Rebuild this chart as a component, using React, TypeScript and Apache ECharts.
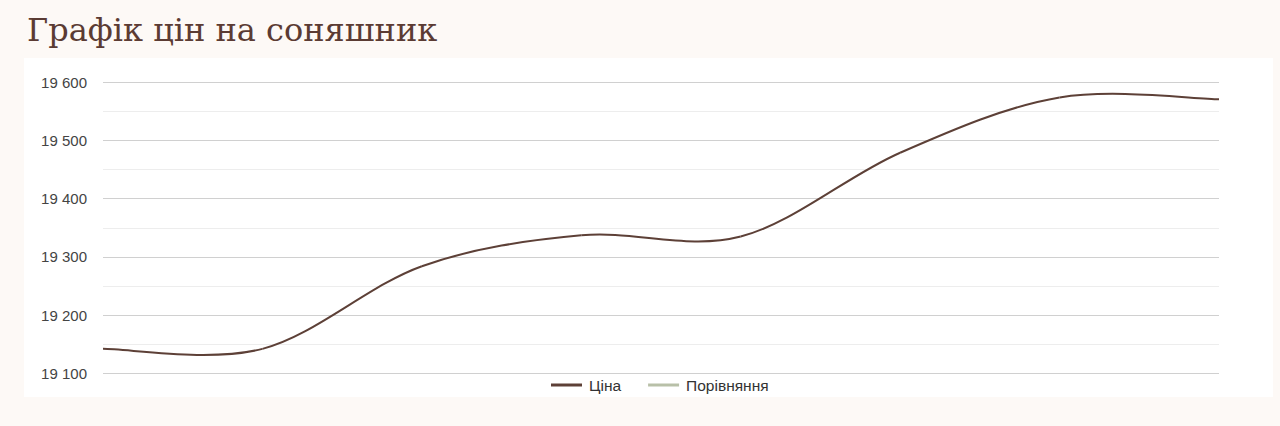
import React, { useEffect, useRef } from "react";
import * as echarts from "echarts";

const categories = ["1", "2", "3", "4", "5", "6", "7", "8"];
const priceValues = [19142, 19142, 19284, 19337, 19335, 19479, 19574, 19571];
const compareValues: number[] = [];
const seriesNames = ["Ціна", "Порівняння"];
const yTicks = [19100, 19200, 19300, 19400, 19500, 19600];

const PRICE_COLOR = "#5d4037";
const COMPARE_COLOR = "#b8c0a8";
const TENSION = 1 / 6;

const fmt = (v: number) => String(v).replace(/\B(?=(\d{3})+(?!\d))/g, " ");

export default function App() {
  const ref = useRef<HTMLDivElement>(null);
  useEffect(() => {
    document.body.style.margin = "0";
    const chart = echarts.init(ref.current!, undefined, { renderer: "svg" });
    const n = priceValues.length;
    chart.setOption({
      animation: false,
      backgroundColor: "#fdf9f6",
      title: {
        text: "Графік цін на соняшник",
        left: 22,
        top: 9,
        textStyle: {
          fontFamily: "'DejaVu Serif', serif",
          fontSize: 32,
          fontWeight: "normal",
          color: "#5b3b33",
        },
      },
      graphic: [
        {
          type: "rect",
          z: -10,
          shape: { x: 24, y: 58, width: 1249, height: 339 },
          style: { fill: "#ffffff" },
          silent: true,
        },
      ],
      legend: {
        data: seriesNames,
        top: 372,
        left: 546,
        icon: "rect",
        itemWidth: 31,
        itemHeight: 3,
        itemGap: 27,
        textStyle: { fontFamily: "Arial, 'Liberation Sans', sans-serif", fontSize: 15.5, color: "#333", padding: [0, 0, 0, 2] },
      },
      grid: { left: 103, right: 61, top: 82.3, bottom: 52.7, containLabel: false },
      xAxis: {
        type: "category",
        data: categories,
        boundaryGap: false,
        show: false,
      },
      yAxis: {
        type: "value",
        min: yTicks[0],
        max: yTicks[yTicks.length - 1],
        interval: 100,
        axisLine: { show: false },
        axisTick: { show: false },
        axisLabel: {
          margin: 16,
          color: "#444",
          fontSize: 15,
          fontFamily: "Arial, 'Liberation Sans', sans-serif",
          formatter: (v: number) => fmt(v),
        },
        splitLine: { lineStyle: { color: "#d0d0d0", width: 1 } },
        minorTick: { show: false, splitNumber: 2 },
        minorSplitLine: { show: true, lineStyle: { color: "#ededed", width: 1 } },
      },
      series: [
        {
          name: seriesNames[0],
          type: "custom",
          data: priceValues.map((v, i) => [i, v]),
          encode: { x: 0, y: 1 },
          itemStyle: { color: PRICE_COLOR },
          renderItem: (params: any, api: any) => {
            const i = params.dataIndex;
            if (i >= n - 1) return null;
            const pts = priceValues.map((v, k) => api.coord([k, v]));
            const p0 = pts[Math.max(i - 1, 0)];
            const p1 = pts[i];
            const p2 = pts[i + 1];
            const p3 = pts[Math.min(i + 2, n - 1)];
            return {
              type: "bezierCurve",
              shape: {
                x1: p1[0],
                y1: p1[1],
                x2: p2[0],
                y2: p2[1],
                cpx1: p1[0] + (p2[0] - p0[0]) * TENSION,
                cpy1: p1[1] + (p2[1] - p0[1]) * TENSION,
                cpx2: p2[0] - (p3[0] - p1[0]) * TENSION,
                cpy2: p2[1] - (p3[1] - p1[1]) * TENSION,
              },
              style: { stroke: PRICE_COLOR, lineWidth: 2, fill: "none" },
            };
          },
        },
        {
          name: seriesNames[1],
          type: "line",
          data: compareValues,
          symbol: "none",
          lineStyle: { color: COMPARE_COLOR, width: 2 },
          itemStyle: { color: COMPARE_COLOR },
        },
      ],
    });
    return () => chart.dispose();
  }, []);
  return <div ref={ref} style={{ width: 1280, height: 426 }} />;
}
